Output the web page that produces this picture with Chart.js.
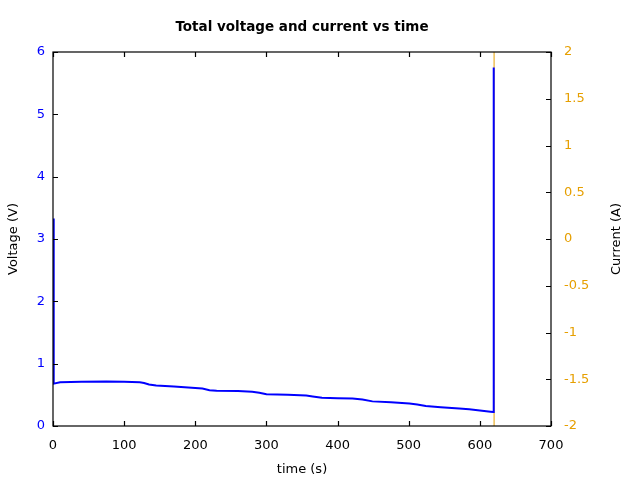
<!DOCTYPE html>
<html>
<head>
<meta charset="utf-8">
<title>Total voltage and current vs time</title>
<script src="https://cdn.jsdelivr.net/npm/chart.js@4/dist/chart.umd.min.js"></script>
<style>
    html, body { margin: 0; padding: 0; background: #ffffff; }
    #box { width: 640px; height: 480px; }
</style>
</head>
<body>
<div id="box"><canvas id="grafico" width="640" height="480"></canvas></div>
<script>
"use strict";

/********************************************************************
 * Dados
 ********************************************************************/
const tempo = [
    0, 1, 10, 40, 75, 100, 122, 128, 135, 145, 170, 200, 210, 220, 230,
    260, 280, 290, 300, 330, 356, 365, 378, 400, 421, 435, 449, 475, 501,
    512, 524, 545, 571, 585, 600, 615, 619, 619.5
];

const tensao = [
    3.33, 0.68, 0.70, 0.71, 0.715, 0.71, 0.70, 0.69, 0.665, 0.65, 0.635,
    0.61, 0.60, 0.575, 0.565, 0.56, 0.55, 0.535, 0.51, 0.50, 0.49, 0.475,
    0.455, 0.445, 0.44, 0.425, 0.395, 0.38, 0.36, 0.345, 0.32, 0.30, 0.28,
    0.27, 0.25, 0.23, 0.225, 5.75
];

const tempoCorrente = [620, 620];
const corrente = [-2.3, 2.3];

const ticksTempo = [0, 100, 200, 300, 400, 500, 600, 700];
const ticksTensao = [0, 1, 2, 3, 4, 5, 6];
const ticksCorrente = [-2, -1.5, -1, -0.5, 0, 0.5, 1, 1.5, 2];

const TITULO = "Total voltage and current vs time";
const TITULO_Y2 = "Current (A)";

const AZUL = "#0000ff";
const LARANJA = "#e69f00";

Chart.defaults.font.family = "'DejaVu Sans', sans-serif";
Chart.defaults.font.size = 13;
Chart.defaults.color = "#000000";

/********************************************************************
 * Moldura, marcas internas e títulos (estilo gnuplot)
 ********************************************************************/
const moldura = {

    id: "moldura",

    afterDraw(chart) {

        const ctx = chart.ctx;
        const a = chart.chartArea;
        const t = 5;

        ctx.save();
        ctx.strokeStyle = "#000000";
        ctx.lineWidth = 1.2;

        ctx.beginPath();

        chart.scales.x.ticks.forEach(k => {
            const px = Math.round(chart.scales.x.getPixelForValue(k.value)) + 0.5;
            ctx.moveTo(px, a.bottom);
            ctx.lineTo(px, a.bottom - t);
            ctx.moveTo(px, a.top);
            ctx.lineTo(px, a.top + t);
        });

        chart.scales.y.ticks.forEach(k => {
            const py = Math.round(chart.scales.y.getPixelForValue(k.value)) + 0.5;
            ctx.moveTo(a.left, py);
            ctx.lineTo(a.left + t, py);
        });

        chart.scales.y2.ticks.forEach(k => {
            const py = Math.round(chart.scales.y2.getPixelForValue(k.value)) + 0.5;
            ctx.moveTo(a.right, py);
            ctx.lineTo(a.right - t, py);
        });

        ctx.stroke();

        ctx.strokeRect(Math.round(a.left), Math.round(a.top),
            Math.round(a.right - a.left), Math.round(a.bottom - a.top));

        ctx.fillStyle = "#000000";
        ctx.textAlign = "center";
        ctx.textBaseline = "middle";

        // título centrado sobre a área do gráfico
        ctx.font = "bold 13.5px 'DejaVu Sans', sans-serif";
        ctx.fillText(TITULO, (a.left + a.right) / 2, 27);

        // título do eixo direito, lido de baixo para cima
        ctx.font = "13px 'DejaVu Sans', sans-serif";
        ctx.translate(617, (a.top + a.bottom) / 2);
        ctx.rotate(-Math.PI / 2);
        ctx.fillText(TITULO_Y2, 0, 0);

        ctx.restore();

    }

};

/********************************************************************
 * Cria gráfico
 ********************************************************************/
function criarGrafico() {

    const canvas = document.getElementById("grafico");

    if (!canvas) return;

    return new Chart(canvas, {

        type: "scatter",

        data: {

            datasets: [{

                label: "Voltage",
                data: tempo.map((x, i) => ({ x: x, y: tensao[i] })),
                showLine: true,
                borderColor: AZUL,
                borderWidth: 2,
                pointRadius: 0,
                tension: 0,
                yAxisID: "y"

            }, {

                label: "Current",
                data: tempoCorrente.map((x, i) => ({ x: x, y: corrente[i] })),
                showLine: true,
                borderColor: LARANJA,
                borderWidth: 1,
                pointRadius: 0,
                yAxisID: "y2"

            }]

        },

        options: {

            responsive: false,
            animation: false,
            devicePixelRatio: 1,

            layout: { padding: { top: 52, left: 0, right: 0, bottom: 0 } },

            plugins: {

                legend: { display: false },
                tooltip: { enabled: false },
                title: { display: false }

            },

            scales: {

                x: {
                    type: "linear",
                    min: 0,
                    max: 700,
                    afterBuildTicks: s => { s.ticks = ticksTempo.map(v => ({ value: v })); },
                    afterFit: s => { s.height = 54; },
                    grid: { display: false, drawTicks: false },
                    border: { display: false },
                    ticks: { color: "#000000", padding: 12, maxRotation: 0 },
                    title: {
                        display: true,
                        text: "time (s)",
                        color: "#000000",
                        padding: { top: 0, bottom: 3 }
                    }
                },

                y: {
                    type: "linear",
                    position: "left",
                    min: 0,
                    max: 6,
                    afterBuildTicks: s => { s.ticks = ticksTensao.map(v => ({ value: v })); },
                    afterFit: s => { s.width = 53; },
                    grid: { display: false, drawTicks: false },
                    border: { display: false },
                    ticks: { color: AZUL, padding: 8 },
                    title: {
                        display: true,
                        text: "Voltage (V)",
                        color: "#000000",
                        padding: { top: 6, bottom: 0 }
                    }
                },

                y2: {
                    type: "linear",
                    position: "right",
                    min: -2,
                    max: 2,
                    afterBuildTicks: s => { s.ticks = ticksCorrente.map(v => ({ value: v })); },
                    afterFit: s => { s.width = 89; },
                    grid: { display: false, drawTicks: false },
                    border: { display: false },
                    ticks: {
                        color: LARANJA,
                        padding: 13,
                        callback: v => String(v)
                    }
                }

            }

        },

        plugins: [moldura]

    });

}

criarGrafico();
</script>
</body>
</html>
